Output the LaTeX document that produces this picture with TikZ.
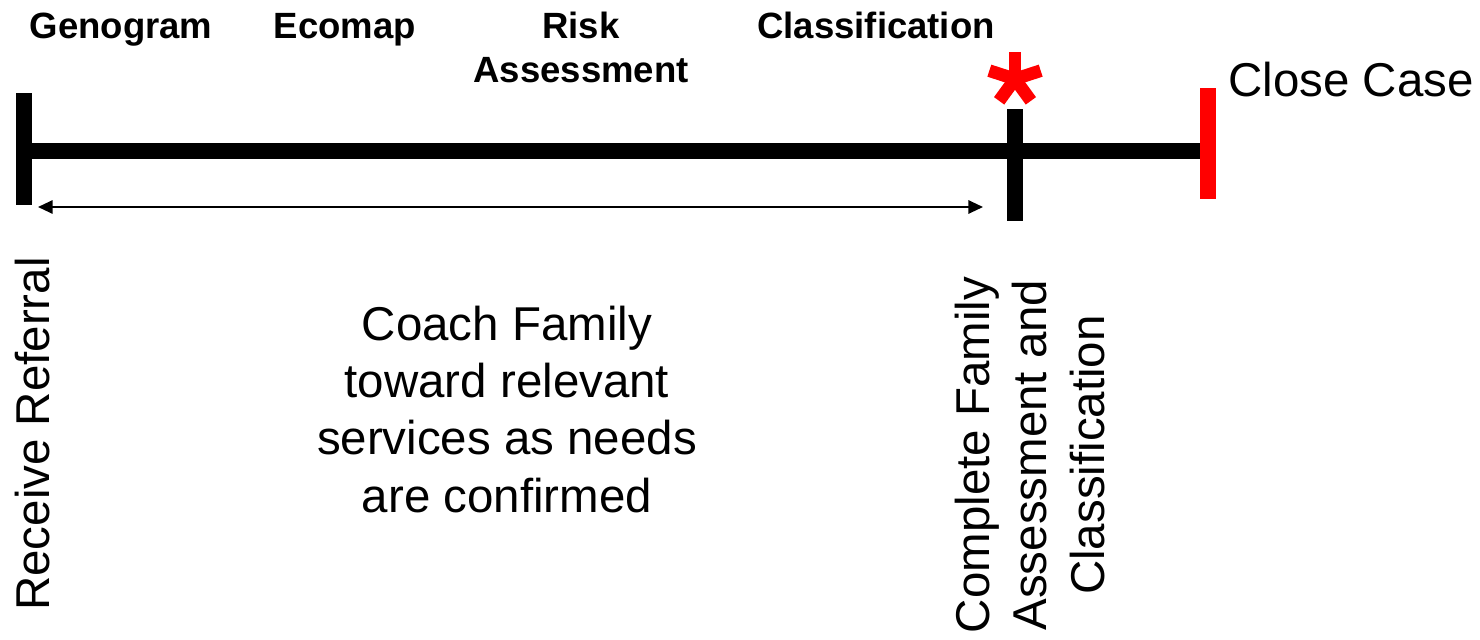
\documentclass[tikz,border=0pt]{standalone}
\usepackage{fontspec}
\setmainfont{Liberation Sans}
\usetikzlibrary{arrows.meta}

\begin{document}
\begin{tikzpicture}[x=0.75pt,y=-0.75pt,
  bar/.style={line width=12.5pt},
  tick/.style={line width=11.5pt},
  phase/.style={font=\bfseries\fontsize{27.4}{33}\selectfont,align=center,anchor=base,inner sep=0pt},
  lbl/.style={font=\fontsize{35.6}{43}\selectfont,align=center,inner sep=0pt}]
\useasboundingbox (0,0) rectangle (1480,639);
% timeline
\coordinate (start) at (24,151);
\coordinate (assess) at (1015,151);
\coordinate (close) at (1208,151);
\draw[bar] (start) -- (close);
\draw[tick] (start) ++(0,-58) -- ++(0,112);
\draw[tick] (assess) ++(0,-42) -- ++(0,112);
\draw[tick,red] (close) ++(0,-63) -- ++(0,111);
% star
\coordinate (star) at (1015,79);
\foreach \a in {-90,-18,-162,54,126}
  \draw[red,line width=9.5pt] (star) -- ++(\a:27);
% span of coaching
\coordinate (arrL) at (38,207);
\coordinate (arrR) at (983,207);
\draw[{Triangle[length=11pt,width=10pt]}-{Triangle[length=11pt,width=10pt]},line width=1.5pt] (arrL) -- (arrR);
% phases (base = last line)
\node[phase] (geno) at (121,38) {Genogram};
\node[phase] (eco) at (345,38) {Ecomap};
\node[phase] (risk) at (581,82) {Risk\\Assessment};
\node[phase] (class) at (876,38) {Classification};
% labels
\node[lbl,anchor=base west] (closelbl) at (1228,96) {Close Case};
\node[lbl,rotate=90,anchor=base] (refer) at (49,434) {Receive Referral};
\node[lbl,anchor=base] (coach) at (507,512) {Coach Family\\toward relevant\\services as needs\\are confirmed};
\node[lbl,rotate=90] (complete) at (1030,455) {Complete Family\\Assessment and\\Classification};
\end{tikzpicture}
\end{document}
